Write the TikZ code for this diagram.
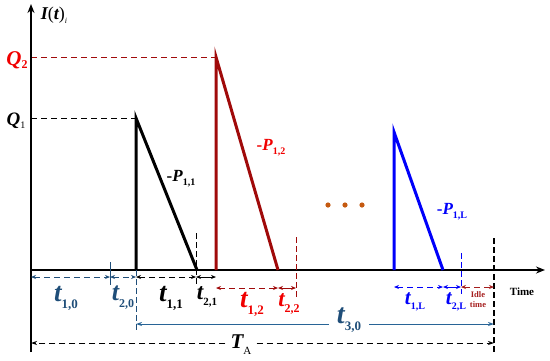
\documentclass[tikz,border=0pt]{standalone}
\usepackage{fontspec}
\setmainfont{Liberation Serif}
\usetikzlibrary{arrows.meta}
\definecolor{dred}{RGB}{160,10,10}
\definecolor{lred}{RGB}{240,0,0}
\definecolor{pblue}{RGB}{0,0,250}
\definecolor{navy}{RGB}{31,78,121}
\definecolor{steel}{RGB}{40,100,150}
\definecolor{dots}{RGB}{197,90,17}
\definecolor{idle}{RGB}{165,30,30}
\newcommand{\sublab}[5]{{\fontsize{#1}{#1}\selectfont\bfseries\itshape #2}\raisebox{#5}{\fontsize{#3}{#3}\selectfont\bfseries #4}}
\tikzset{
  axis/.style={line width=1.6pt,-{Stealth[length=9pt,width=7pt]}},
  tri/.style={line width=3pt,line cap=butt,line join=miter},
  lev/.style={dashed,dash pattern=on 6pt off 4pt,line width=0.9pt},
  ivl/.style={dash pattern=on 6pt off 4pt,line width=0.9pt,{Stealth[length=5pt,width=4pt]}-{Stealth[length=5pt,width=4pt]}},
  ivs/.style={line width=0.9pt,{Stealth[length=5pt,width=4pt]}-{Stealth[length=5pt,width=4pt]}},
  tick/.style={dash pattern=on 6pt off 3pt,line width=0.9pt},
  lab/.style={inner sep=0pt,anchor=center}
}
\begin{document}
\begin{tikzpicture}[x=1pt,y=-1pt]
\useasboundingbox (0,0) rectangle (550,360);
% coordinates
\coordinate (O) at (31,270);
\coordinate (Ytop) at (31,4);
\coordinate (Ybot) at (31,352);
\coordinate (Xend) at (545,270);
\coordinate (A1) at (136,118); \coordinate (A1b) at (136,270); \coordinate (A1e) at (197,270);
\coordinate (A2) at (216,57); \coordinate (A2b) at (216,270); \coordinate (A2e) at (278,270);
\coordinate (A3) at (394,132); \coordinate (A3b) at (394,270); \coordinate (A3e) at (443,270);
\coordinate (Q2l) at (31,57); \coordinate (Q1l) at (31,118);
% levels
\draw[lev,dred] (Q2l) -- (A2);
\draw[lev,black] (Q1l) -- (A1);
% axes
\draw[line width=1.6pt] (Ybot) -- (O);
\draw[axis] (O) -- (Ytop);
\draw[axis] (O) -- (Xend);
% triangles
\draw[tri,black] (A1b) -- (A1) -- (A1e);
\draw[tri,dred] (A2b) -- (A2) -- (A2e);
\draw[tri,pblue] (A3b) -- (A3) -- (A3e);
% boundary ticks
\coordinate (k1a) at (110,262); \coordinate (k1b) at (110,285);
\coordinate (k2a) at (136,270); \coordinate (k2b) at (136,330);
\coordinate (k3a) at (196,233); \coordinate (k3b) at (196,284);
\coordinate (k4a) at (296,237); \coordinate (k4b) at (296,298);
\coordinate (k5a) at (461,253); \coordinate (k5b) at (461,294);
\coordinate (k6a) at (494,238); \coordinate (k6b) at (494,353);
\draw[navy,line width=0.9pt] (k1a) -- (k1b);
\draw[tick,navy] (k2a) -- (k2b);
\draw[tick,black] (k3a) -- (k3b);
\draw[tick,dred] (k4a) -- (k4b);
\draw[tick,pblue] (k5a) -- (k5b);
\draw[tick,black,line width=1.1pt] (k6a) -- (k6b);
% intervals row 1
\coordinate (r1a) at (31,277); \coordinate (r1b) at (110,277); \coordinate (r1c) at (136,277);
\coordinate (r1d) at (196,277); \coordinate (r1e) at (216,277);
\draw[ivl,navy] (r1a) -- (r1b);
\draw[ivl,navy] (r1b) -- (r1c);
\draw[ivl,black] (r1c) -- (r1d);
\draw[ivs,black] (r1d) -- (r1e);
% intervals row 2
\coordinate (r2a) at (216,288); \coordinate (r2b) at (278,288); \coordinate (r2c) at (296,288);
\coordinate (r2d) at (394,287); \coordinate (r2e) at (443,287); \coordinate (r2f) at (461,287); \coordinate (r2g) at (494,287);
\draw[ivl,dred] (r2a) -- (r2b);
\draw[ivs,dred] (r2b) -- (r2c);
\draw[ivl,pblue] (r2d) -- (r2e);
\draw[ivs,pblue] (r2e) -- (r2f);
\draw[ivl,idle] (r2f) -- (r2g);
% t30 and TA
\coordinate (t3a) at (136,324); \coordinate (t3b) at (494,324);
\node[lab,text=navy] (t30) at (349,320) {\sublab{28pt}{t}{13pt}{3,0}{-7pt}};
\draw[steel,line width=1pt,-{Stealth[length=6pt,width=4pt]}] (t30.west) ++(-8,4) -- (t3a);
\draw[steel,line width=1pt,-{Stealth[length=6pt,width=4pt]}] (t30.east) ++(8,4) -- (t3b);
\coordinate (TAa) at (31,343); \coordinate (TAb) at (494,343);
\node[lab] (TA) at (241,345) {\sublab{21pt}{T}{11pt}{\mdseries A}{-6pt}};
\draw[lev,black,-{Stealth[length=6pt,width=4pt]}] (TA.west) ++(-5,-2) -- (TAa);
\draw[lev,black,-{Stealth[length=6pt,width=4pt]}] (TA.east) ++(5,-2) -- (TAb);
% labels
\node[lab] (Ilab) at (54,15) {{\fontsize{18pt}{18pt}\selectfont\bfseries\itshape I}{\fontsize{18pt}{18pt}\selectfont(}{\fontsize{18pt}{18pt}\selectfont\bfseries\itshape t}{\fontsize{18pt}{18pt}\selectfont)}\raisebox{-4pt}{\fontsize{8pt}{8pt}\selectfont\itshape i}};
\node[lab,text=lred] (Q2) at (17,60) {\sublab{21pt}{Q}{12pt}{2}{-3pt}};
\node[lab] (Q1) at (16,121) {\sublab{19pt}{Q}{10pt}{\mdseries 1}{-3pt}};
\node[lab] (P11) at (181,179) {{\fontsize{17pt}{17pt}\selectfont\bfseries -\itshape P}\raisebox{-4pt}{\fontsize{10pt}{10pt}\selectfont\bfseries 1,1}};
\node[lab,text=lred] (P12) at (271,148) {{\fontsize{17pt}{17pt}\selectfont\bfseries -\itshape P}\raisebox{-4pt}{\fontsize{10pt}{10pt}\selectfont\bfseries 1,2}};
\node[lab,text=pblue] (P1L) at (452,212) {{\fontsize{17pt}{17pt}\selectfont\bfseries -\itshape P}\raisebox{-4pt}{\fontsize{10pt}{10pt}\selectfont\bfseries 1,L}};
\node[lab,text=navy] (t10) at (66,298) {\sublab{27pt}{t}{13pt}{1,0}{-7pt}};
\node[lab,text=navy] (t20) at (123,298) {\sublab{26pt}{t}{12pt}{2,0}{-7pt}};
\node[lab] (t11) at (171,298) {\sublab{27pt}{t}{13pt}{1,1}{-7pt}};
\node[lab] (t21) at (207,297) {\sublab{23pt}{t}{11pt}{2,1}{-6pt}};
\node[lab,text=lred] (t12) at (252,304) {\sublab{27pt}{t}{13pt}{1,2}{-7pt}};
\node[lab,text=lred] (t22) at (289,304) {\sublab{23pt}{t}{12pt}{2,2}{-6pt}};
\node[lab,text=pblue] (t1L) at (415,302) {\sublab{21pt}{t}{10pt}{1,L}{-5pt}};
\node[lab,text=pblue] (t2L) at (456,302) {\sublab{21pt}{t}{10pt}{2,L}{-5pt}};
\node[lab,text=idle,align=center,font=\fontsize{8.5pt}{10pt}\selectfont\bfseries] (idlet) at (478,300) {Idle\\time};
\node[lab,font=\fontsize{11pt}{11pt}\selectfont\bfseries] (time) at (522,292) {Time};
% dots
\fill[dots] (328,205) circle (2.6) (345,205) circle (2.6) (362,205) circle (2.6);
\end{tikzpicture}
\end{document}
